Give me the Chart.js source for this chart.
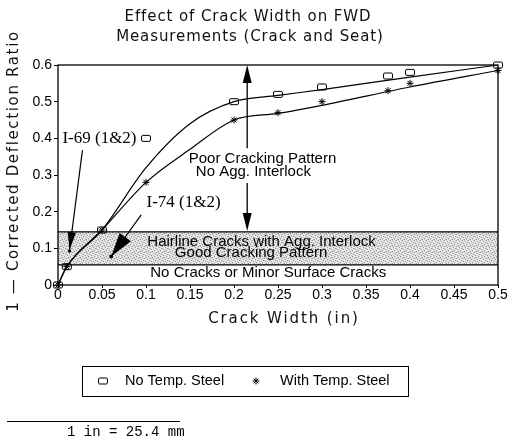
<!DOCTYPE html>
<html>
<head>
<meta charset="utf-8">
<script src="https://cdn.jsdelivr.net/npm/chart.js@4.4.1/dist/chart.umd.min.js"></script>
<style>
  html, body { margin: 0; padding: 0; background: #fff; }
  canvas { display: block; }
</style>
</head>
<body>
<canvas id="chart" width="508" height="448"></canvas>
<script>
// Measured points: crack width (in) vs. 1 - corrected deflection ratio
const crackWidth     = [0, 0.01, 0.05, 0.10, 0.20, 0.25, 0.30, 0.375, 0.40, 0.50];
const ratioNoSteel   = [0, 0.05, 0.15, 0.40, 0.50, 0.52, 0.54, 0.57,  0.58, 0.60];
const ratioWithSteel = [0, 0.05, 0.15, 0.28, 0.45, 0.47, 0.50, 0.53,  0.55, 0.585];

// Hand-fitted trend curves through each series
const fitWidth       = [0, 0.01, 0.05, 0.10, 0.15, 0.20, 0.25,  0.30,  0.40,  0.50];
const fitNoSteel     = [0, 0.05, 0.15, 0.32, 0.44, 0.50, 0.517, 0.533, 0.567, 0.60];
const fitWithSteel   = [0, 0.05, 0.15, 0.28, 0.37, 0.45, 0.468, 0.49,  0.54,  0.585];

// Hairline-crack zone (ratio range)
const hairlineBand = [0.055, 0.145];

const xTicks      = [0, 0.05, 0.1, 0.15, 0.2, 0.25, 0.3, 0.35, 0.4, 0.45, 0.5];
const xTickLabels = ['0', '0.05', '0.1', '0.15', '0.2', '0.25', '0.3', '0.35', '0.4', '0.45', '0.5'];
const yTicks      = [0, 0.1, 0.2, 0.3, 0.4, 0.5, 0.6];
const yTickLabels = ['0', '0.1', '0.2', '0.3', '0.4', '0.5', '0.6'];

const seriesNames = ['No Temp. Steel', 'With Temp. Steel'];
const titleLines  = ['Effect of Crack Width on FWD', 'Measurements (Crack and Seat)'];
const xTitle = 'Crack Width (in)';
const yTitle = '1 \u2014 Corrected Deflection Ratio';
const unitNote = '1 in = 25.4 mm';

const SANS = '"Liberation Sans", Arial, sans-serif';
const SERIF = '"Liberation Serif", "Times New Roman", serif';
const STROKE = '"DejaVu Sans", sans-serif';

// Hollow rounded-box marker
const boxMarker = document.createElement('canvas');
boxMarker.width = 12; boxMarker.height = 9;
(function () {
  const g = boxMarker.getContext('2d');
  g.strokeStyle = '#000'; g.lineWidth = 1;
  g.beginPath();
  if (g.roundRect) g.roundRect(1.5, 1.5, 9, 6, 1.5); else g.rect(1.5, 1.5, 9, 6);
  g.stroke();
})();

// Stipple fill for the hairline zone
function stipple(ctx) {
  const n = 6;
  const c = document.createElement('canvas');
  c.width = n; c.height = n;
  const g = c.getContext('2d');
  g.fillStyle = '#e8e8e8'; g.fillRect(0, 0, n, n);
  const dark = [[0, 0], [3, 1], [1, 3], [4, 4], [2, 5], [5, 2]];
  const mid = [[2, 0], [5, 0], [0, 2], [3, 3], [1, 5], [4, 5]];
  g.fillStyle = '#939393';
  dark.forEach(([i, j]) => g.fillRect(i, j, 1, 1));
  g.fillStyle = '#c2c2c2';
  mid.forEach(([i, j]) => g.fillRect(i, j, 1, 1));
  return ctx.createPattern(c, 'repeat');
}

function arrowHead(ctx, tx, ty, fx, fy, len, half) {
  const a = Math.atan2(ty - fy, tx - fx);
  const bx = tx - len * Math.cos(a), by = ty - len * Math.sin(a);
  ctx.beginPath();
  ctx.moveTo(tx, ty);
  ctx.lineTo(bx + half * Math.sin(a), by - half * Math.cos(a));
  ctx.lineTo(bx - half * Math.sin(a), by + half * Math.cos(a));
  ctx.closePath();
  ctx.fill();
}

const annotations = {
  id: 'annotations',
  beforeDatasetsDraw(chart) {
    const { ctx, chartArea: a, scales: { x, y } } = chart;
    const yTop = y.getPixelForValue(hairlineBand[1]);
    const yBot = y.getPixelForValue(hairlineBand[0]);
    ctx.save();
    ctx.fillStyle = stipple(ctx);
    ctx.fillRect(a.left, yTop, a.right - a.left, yBot - yTop);
    ctx.strokeStyle = '#000'; ctx.lineWidth = 1.4;
    ctx.beginPath();
    ctx.moveTo(a.left, yTop); ctx.lineTo(a.right, yTop);
    ctx.moveTo(a.left, yBot); ctx.lineTo(a.right, yBot);
    ctx.stroke();

    ctx.fillStyle = '#000';
    ctx.font = '15px ' + SANS;
    ctx.textAlign = 'center'; ctx.textBaseline = 'middle';
    ctx.fillText('Hairline Cracks with Agg. Interlock', x.getPixelForValue(0.2313), y.getPixelForValue(0.117));
    ctx.fillText('Good Cracking Pattern', x.getPixelForValue(0.2195), y.getPixelForValue(0.087));
    ctx.fillText('No Cracks or Minor Surface Cracks', x.getPixelForValue(0.2389), y.getPixelForValue(0.033));
    ctx.fillText('Poor Cracking Pattern', x.getPixelForValue(0.2324), y.getPixelForValue(0.343));
    ctx.fillText('No Agg. Interlock', x.getPixelForValue(0.222), y.getPixelForValue(0.308));

    // Double-headed arrow spanning the poor-cracking region
    const ax = x.getPixelForValue(0.215);
    const aTop = y.getPixelForValue(0.6), aBot = y.getPixelForValue(0.147);
    ctx.lineWidth = 1.3;
    ctx.beginPath();
    ctx.moveTo(ax, aTop + 10); ctx.lineTo(ax, y.getPixelForValue(0.373));
    ctx.moveTo(ax, y.getPixelForValue(0.278)); ctx.lineTo(ax, aBot - 10);
    ctx.stroke();
    arrowHead(ctx, ax, aTop, ax, aTop + 20, 18, 4.5);
    arrowHead(ctx, ax, aBot, ax, aBot - 20, 18, 4.5);

    // Site labels with pointers
    ctx.font = '17px ' + SERIF;
    ctx.textAlign = 'left';
    ctx.fillText('I-69 (1&2)', x.getPixelForValue(0.005), y.getPixelForValue(0.4));
    ctx.fillText('I-74 (1&2)', x.getPixelForValue(0.1006), y.getPixelForValue(0.226));

    let sx = x.getPixelForValue(0.0278), sy = y.getPixelForValue(0.368);
    let tx = x.getPixelForValue(0.0131), ty = y.getPixelForValue(0.0954);
    ctx.lineWidth = 1.2;
    ctx.beginPath(); ctx.moveTo(sx, sy); ctx.lineTo(tx, ty); ctx.stroke();
    arrowHead(ctx, tx, ty, sx, sy, 18, 4.2);
    ctx.beginPath(); ctx.arc(tx, ty + 1, 1.7, 0, Math.PI * 2); ctx.fill();

    sx = x.getPixelForValue(0.0945); sy = y.getPixelForValue(0.191);
    tx = x.getPixelForValue(0.0605); ty = y.getPixelForValue(0.0777);
    ctx.beginPath(); ctx.moveTo(sx, sy); ctx.lineTo(tx, ty); ctx.stroke();
    arrowHead(ctx, tx, ty, sx, sy, 24, 7);
    ctx.beginPath(); ctx.arc(tx, ty, 1.9, 0, Math.PI * 2); ctx.fill();
    ctx.restore();
  },
  afterDraw(chart) {
    const { ctx, chartArea: a } = chart;
    ctx.save();
    // Plot frame
    ctx.strokeStyle = '#000'; ctx.lineWidth = 1.3;
    ctx.strokeRect(a.left, a.top, a.right - a.left, a.bottom - a.top);

    // Titles
    ctx.fillStyle = '#111';
    ctx.textAlign = 'center'; ctx.textBaseline = 'middle';
    ctx.font = '15px ' + STROKE;
    ctx.letterSpacing = '0.9px';
    ctx.fillText(titleLines[0], 248, 17);
    ctx.fillText(titleLines[1], 250, 37);
    ctx.letterSpacing = '1.9px';
    ctx.fillText(xTitle, 284, 319);
    ctx.save();
    ctx.translate(14, 171);
    ctx.rotate(-Math.PI / 2);
    ctx.letterSpacing = '1.65px';
    ctx.fillText(yTitle, 0, 0);
    ctx.restore();
    ctx.letterSpacing = '0px';

    // Legend
    ctx.strokeStyle = '#000'; ctx.lineWidth = 1;
    ctx.strokeRect(82.5, 366.5, 326, 30);
    ctx.drawImage(boxMarker, 103 - 6, 381 - 4.5);
    ctx.lineWidth = 1;
    const sx = 256, sy = 381, r = 3.5;
    ctx.beginPath();
    ctx.moveTo(sx - r, sy); ctx.lineTo(sx + r, sy);
    ctx.moveTo(sx, sy - r); ctx.lineTo(sx, sy + r);
    ctx.moveTo(sx - r * 0.7, sy - r * 0.7); ctx.lineTo(sx + r * 0.7, sy + r * 0.7);
    ctx.moveTo(sx - r * 0.7, sy + r * 0.7); ctx.lineTo(sx + r * 0.7, sy - r * 0.7);
    ctx.stroke();
    ctx.fillStyle = '#000';
    ctx.font = '14.5px ' + SANS;
    ctx.textAlign = 'left';
    ctx.fillText(seriesNames[0], 125, 381);
    ctx.fillText(seriesNames[1], 280, 381);

    // Unit footnote
    ctx.lineWidth = 1.2;
    ctx.beginPath(); ctx.moveTo(7, 421.5); ctx.lineTo(180, 421.5); ctx.stroke();
    ctx.font = '14px "Liberation Mono", "Courier New", monospace';
    ctx.fillText(unitNote, 67, 432);
    ctx.restore();
  }
};

const toPoints = (xs, ys) => xs.map((v, i) => ({ x: v, y: ys[i] }));

new Chart(document.getElementById('chart'), {
  type: 'scatter',
  data: {
    datasets: [
      {
        label: seriesNames[0] + ' fit',
        data: toPoints(fitWidth, fitNoSteel),
        showLine: true, pointRadius: 0, borderColor: '#000', borderWidth: 1.2,
        cubicInterpolationMode: 'monotone', order: 3
      },
      {
        label: seriesNames[1] + ' fit',
        data: toPoints(fitWidth, fitWithSteel),
        showLine: true, pointRadius: 0, borderColor: '#000', borderWidth: 1.2,
        cubicInterpolationMode: 'monotone', order: 3
      },
      {
        label: seriesNames[0],
        data: toPoints(crackWidth, ratioNoSteel),
        pointStyle: boxMarker, pointRadius: 5, clip: false, order: 1
      },
      {
        label: seriesNames[1],
        data: toPoints(crackWidth, ratioWithSteel),
        pointStyle: 'star', pointRadius: 3.5, borderColor: '#000', borderWidth: 1,
        backgroundColor: 'transparent', clip: false, order: 2
      }
    ]
  },
  options: {
    responsive: false,
    animation: false,
    devicePixelRatio: 1,
    layout: { padding: { top: 65, right: 10, left: 0, bottom: 0 } },
    plugins: { legend: { display: false }, title: { display: false }, tooltip: { enabled: false } },
    scales: {
      x: {
        type: 'linear', min: 0, max: 0.5,
        afterBuildTicks: s => { s.ticks = xTicks.map(v => ({ value: v })); },
        afterFit: s => { s.height = 163; },
        ticks: {
          callback: (v, i) => xTickLabels[i], autoSkip: false, maxRotation: 0,
          font: { family: SANS, size: 14 }, color: '#000', padding: -1
        },
        grid: { display: true, drawOnChartArea: false, drawTicks: true, tickLength: 3, color: '#000' },
        border: { display: false }
      },
      y: {
        type: 'linear', min: 0, max: 0.6,
        afterBuildTicks: s => { s.ticks = yTicks.map(v => ({ value: v })); },
        afterFit: s => { s.width = 58; },
        ticks: {
          callback: (v, i) => yTickLabels[i], autoSkip: false,
          font: { family: SANS, size: 14 }, color: '#000', padding: 2
        },
        grid: { display: true, drawOnChartArea: false, drawTicks: true, tickLength: 4, color: '#000' },
        border: { display: false }
      }
    }
  },
  plugins: [annotations]
});
</script>
</body>
</html>
